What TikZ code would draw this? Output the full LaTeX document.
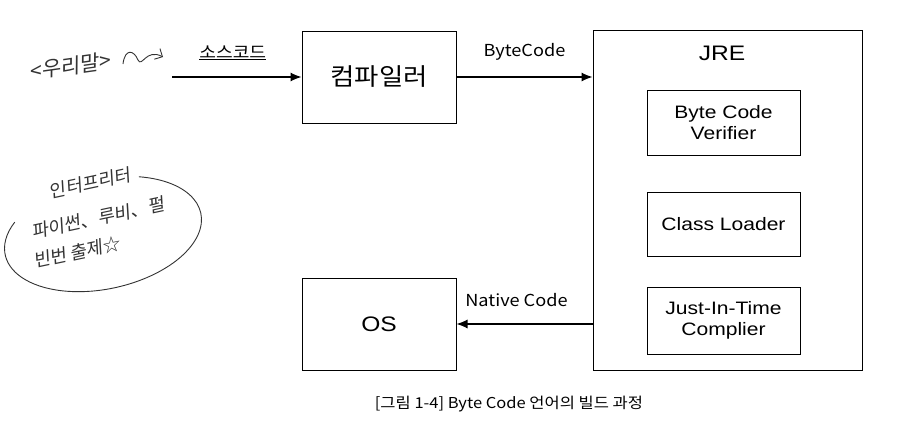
\documentclass[tikz,border=0pt]{standalone}
\usepackage{fontspec}
\setmainfont[FakeStretch=1.17]{Liberation Sans}
\newfontfamily\krfont[FakeStretch=1.1]{Noto Sans CJK KR}
\newfontfamily\handfont[FakeSlant=0.15]{Noto Sans CJK KR}
\usetikzlibrary{positioning, arrows.meta}

\begin{document}
\begin{tikzpicture}[
		x=1pt, y=1pt, >={Latex[length=11pt, width=9pt]},
		% Define styles
		box/.style={rectangle, draw=black, line width=1pt, align=center},
		stage/.style={box, minimum width=154pt, minimum height=92pt},
		part/.style={box, minimum width=153pt, font=\fontsize{18}{21}\selectfont},
		flow/.style={->, line width=1.1pt, black},
		flowlabel/.style={font=\krfont\fontsize{16.5}{18}\selectfont, above=13pt},
		memo/.style={font=\handfont\fontsize{18}{20}\selectfont, text=black!80},
		memoline/.style={line width=0.9pt, black!80}
		]
		\useasboundingbox (0,0) rectangle (905,-434);
		
		% 1. Compiler and OS
		\node[stage, font=\krfont\fontsize{24}{28}\selectfont] (compiler) at (379,-77) {컴파일러};
		\node[stage, font=\fontsize{21}{24}\selectfont] (os) at (379,-324) {OS};
		
		% 2. JRE with its parts
		\node[box, minimum width=269pt, minimum height=340pt] (jre) at (727.5,-200) {};
		\node[font=\fontsize{21}{24}\selectfont] (jrelabel) at (722,-53) {JRE};
		\node[part, minimum height=65pt] (verifier) at (723.5,-122.5) {Byte Code\\Verifier};
		\node[part, minimum height=64pt, below=36pt of verifier] (loader) {Class Loader};
		\node[part, minimum height=67pt, below=30pt of loader] (jit) {Just-In-Time\\Complier};
		
		% 3. Connectors
		\coordinate (source) at (172,-77);
		\draw[flow] (source) -- (compiler.west)
			node[flowlabel, midway, xshift=-4pt] (srclabel) {\underline{소스코드}};
		\draw[flow] (compiler.east) -- (compiler.east -| jre.west)
			node[flowlabel, midway] (bytelabel) {ByteCode};
		\draw[flow] (jre.west |- os.east) -- (os.east)
			node[flowlabel, midway, xshift=-8pt] (nativelabel) {Native Code};
		
		% 4. Caption
		\node[font=\krfont\fontsize{15}{17}\selectfont] (caption) at (509,-404) {[그림 1-4] Byte Code 언어의 빌드 과정};
		
		% 5. Handwritten notes
		\node[memo, rotate=8, font=\handfont\fontsize{21}{24}\selectfont] (memo1) at (70,-66) {<우리말>};
		\coordinate (squigA) at (123,-64);
		\coordinate (squigB) at (163,-57);
		\draw[memoline, -{Straight Barb[length=6pt]}] (squigA) .. controls (125,-48) and (134,-50) .. (138,-60) .. controls (142,-68) and (146,-48) .. (squigB);
		\node[memo, rotate=12] (memo2) at (90,-183) {인터프리터};
		\node[memo, rotate=12] (memo3) at (98,-218) {파이썬、루비、펄};
		\node[memo, rotate=12] (memo4) at (77,-252) {빈번 출제☆};
		\draw[memoline, rotate around={12:(103,-234)}] ([shift={(62:100 and 55)}]103,-234)
			arc[start angle=62, end angle=-213, x radius=100, y radius=55];
		
	\end{tikzpicture}
\end{document}
